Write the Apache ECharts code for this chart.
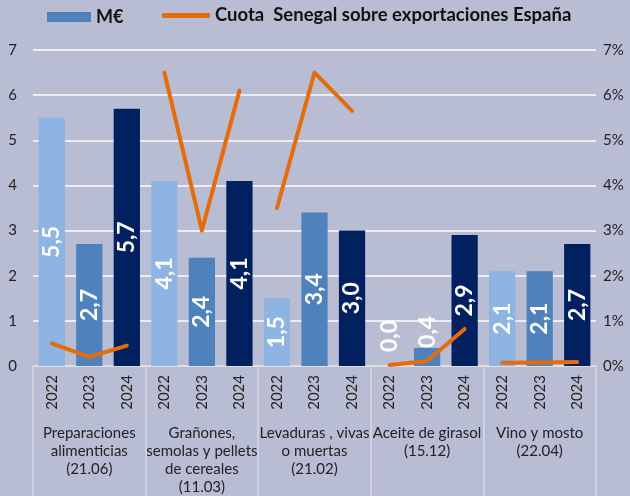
<!DOCTYPE html>
<html>
<head>
<meta charset="utf-8">
<script src="https://cdn.jsdelivr.net/npm/echarts@6/dist/echarts.min.js"></script>
<style>
  html, body { margin: 0; padding: 0; background: #B8BDD4; }
  #chart { width: 630px; height: 496px; }
</style>
</head>
<body>
<div id="chart"></div>
<script>
// ===== datos =====
const years = ['2022', '2023', '2024']
const groups = [
  'Preparaciones\nalimenticias\n(21.06)',
  'Grañones,\nsemolas y pellets\nde cereales\n(11.03)',
  'Levaduras , vivas\no muertas\n(21.02)',
  'Aceite de girasol\n(15.12)',
  'Vino y mosto\n(22.04)'
]
// M€ por año y producto
const valores = [5.5, 2.7, 5.7, 4.1, 2.4, 4.1, 1.5, 3.4, 3.0, 0.0, 0.4, 2.9, 2.1, 2.1, 2.7]
// cuota Senegal (%)
const cuota = [0.5, 0.2, 0.45, 6.5, 3.0, 6.1, 3.5, 6.5, 5.65, 0.02, 0.11, 0.82, 0.07, 0.08, 0.09]

const yearColors = ['#8DB4E2', '#4F81BD', '#002060']
const FONT = 'Lato, "Open Sans", sans-serif'
const nameBar = 'M€'
const nameLine = 'Cuota  Senegal sobre exportaciones España'

const cats = []
groups.forEach(() => years.forEach(y => cats.push(y)))

const barData = valores.map((v, i) => {
  const d = { value: v, itemStyle: { color: yearColors[i % 3] } }
  if (v < 1) {
    d.label = { position: 'top', align: 'left', verticalAlign: 'middle', distance: v === 0 ? 14 : 0 }
  }
  return d
})

// una serie de línea por grupo, para que no se unan
const lineSeries = groups.map((g, gi) => ({
  name: nameLine,
  type: 'line',
  yAxisIndex: 1,
  showSymbol: false,
  symbol: 'none',
  itemStyle: { color: '#E46C0A' },
  lineStyle: { color: '#E46C0A', width: 4, cap: 'round', join: 'round' },
  data: cuota.map((v, i) => (Math.floor(i / 3) === gi ? v : '-')),
  z: 5
}))

const chart = echarts.init(document.getElementById('chart'))
chart.setOption({
  backgroundColor: '#B8BDD4',
  animation: false,
  textStyle: { fontFamily: FONT },
  legend: [
    {
      data: [nameBar], left: 47, top: 8, padding: 0,
      itemWidth: 44, itemHeight: 10, icon: 'rect', itemGap: 6,
      textStyle: { fontFamily: FONT, fontSize: 18, fontWeight: 'bold', color: '#111' }
    },
    {
      data: [nameLine], left: 162, top: 6, padding: 0,
      itemWidth: 48, itemHeight: 5, icon: 'roundRect',
      textStyle: { fontFamily: FONT, fontSize: 18.5, fontWeight: 'bold', color: '#111' }
    }
  ],
  grid: { left: 33, right: 34, top: 50, bottom: 130 },
  xAxis: [
    {
      type: 'category',
      data: cats,
      axisLine: { lineStyle: { color: '#D8D9E2', width: 1.5 } },
      axisTick: { show: false },
      axisLabel: { rotate: 90, margin: 9, fontSize: 15, color: '#222', interval: 0, fontFamily: FONT }
    },
    {
      type: 'category',
      data: groups,
      position: 'bottom',
      axisLine: { show: false },
      axisTick: { show: true, length: 130, interval: 0, lineStyle: { color: '#D8D9E2', width: 1.5 } },
      axisLabel: { interval: 0, margin: 58, fontSize: 15, lineHeight: 18, color: '#222', verticalAlign: 'top', hideOverlap: false, fontFamily: FONT }
    }
  ],
  yAxis: [
    {
      type: 'value', min: 0, max: 7, interval: 1,
      axisLabel: { fontSize: 15, color: '#222', margin: 16, fontFamily: FONT },
      splitLine: { lineStyle: { color: '#ECECF2', width: 2 } },
      axisLine: { show: false }, axisTick: { show: false }
    },
    {
      type: 'value', min: 0, max: 7, interval: 1,
      axisLabel: { fontSize: 15, color: '#222', margin: 7, formatter: '{value}%', fontFamily: FONT },
      splitLine: { show: false },
      axisLine: { show: false }, axisTick: { show: false }
    }
  ],
  series: [
    {
      name: nameBar,
      type: 'bar',
      barCategoryGap: '30%',
      itemStyle: { color: '#4F81BD' },
      label: {
        show: true, position: 'inside', rotate: 90,
        color: '#fff', fontSize: 23, fontWeight: 'bold', fontFamily: FONT,
        formatter: p => p.value.toFixed(1).replace('.', ',')
      },
      data: barData
    },
    ...lineSeries
  ]
})
</script>
</body>
</html>
